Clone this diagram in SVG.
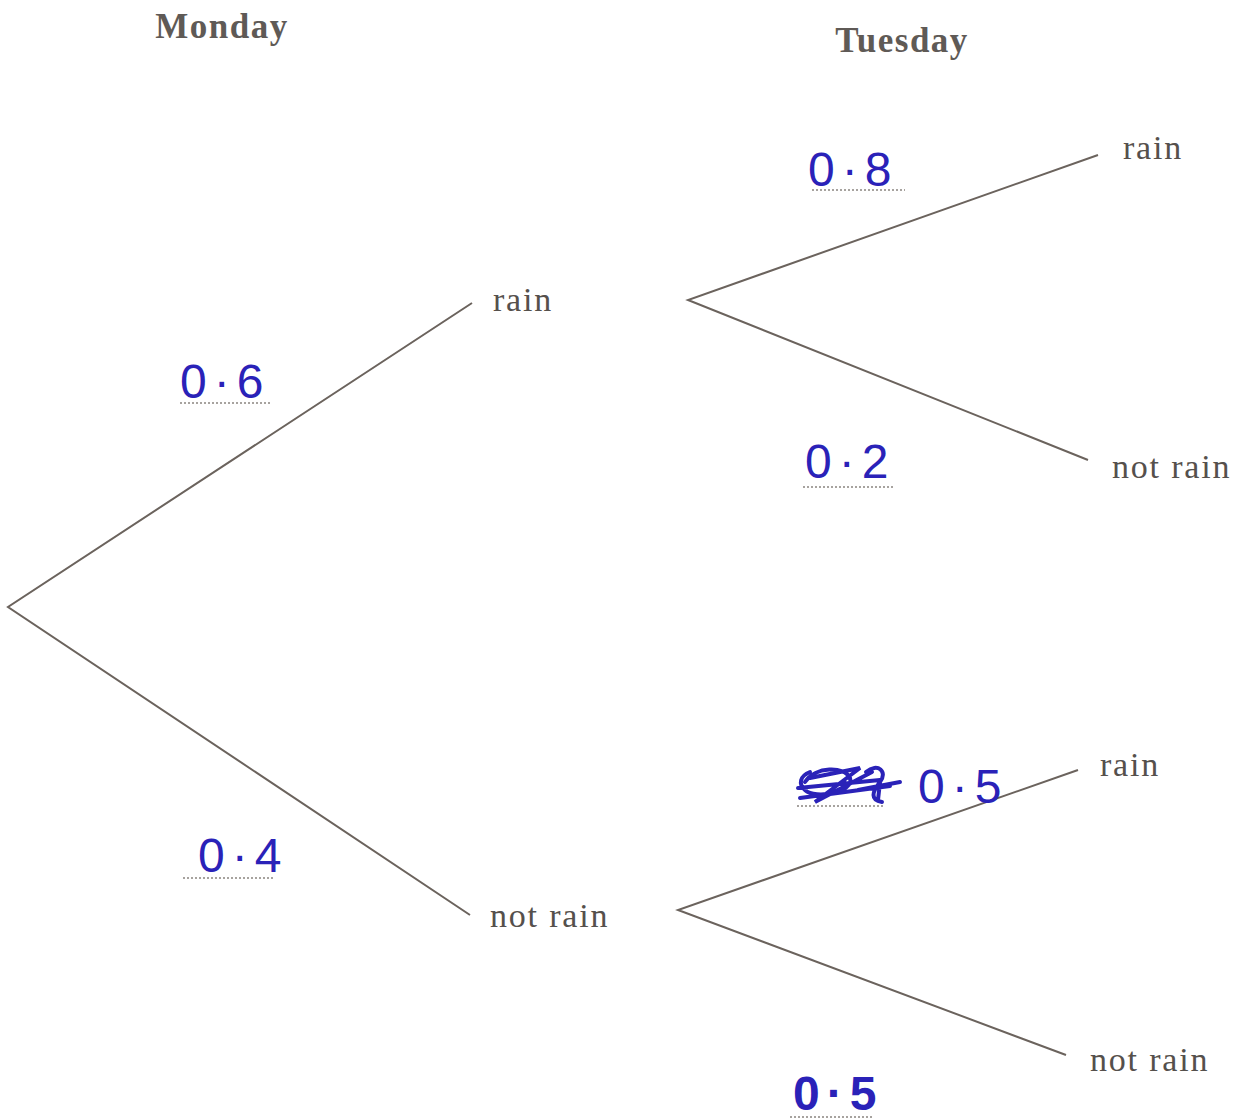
<svg xmlns="http://www.w3.org/2000/svg" width="1240" height="1120" viewBox="0 0 1240 1120">
<style>
.hd{font-family:"Liberation Serif","DejaVu Serif",serif;font-size:35px;font-weight:bold;fill:#5f5a56;letter-spacing:1.5px}
.lb{font-family:"Liberation Serif","DejaVu Serif",serif;font-size:34px;fill:#55504c;letter-spacing:1.8px}
.br{stroke:#6b635d;stroke-width:2;fill:none}
.hw{font-family:"Liberation Sans","DejaVu Sans",sans-serif;font-size:48px;fill:#2a22b8;letter-spacing:7px}
.dot{stroke:#8a8580;stroke-width:1.5;stroke-dasharray:2 2;fill:none}
</style>
<rect width="1240" height="1120" fill="#ffffff"/>
<g id="headers">
<text class="hd" x="222" y="38" text-anchor="middle">Monday</text>
<text class="hd" x="902" y="52" text-anchor="middle">Tuesday</text>
</g>
<g id="connectors">
<path class="br" d="M472 303 L8 607 L470 915"/>
<path class="br" d="M1098 155 L688 300 L1088 460"/>
<path class="br" d="M1078 770 L678 910 L1066 1055"/>
</g>
<g id="mon-rain"><text class="lb" x="493" y="311">rain</text></g>
<g id="mon-notrain"><text class="lb" x="490" y="927">not rain</text></g>
<g id="tue-rain-rain"><text class="lb" x="1123" y="159">rain</text></g>
<g id="tue-rain-notrain"><text class="lb" x="1112" y="478">not rain</text></g>
<g id="tue-notrain-rain"><text class="lb" x="1100" y="776">rain</text></g>
<g id="tue-notrain-notrain"><text class="lb" x="1090" y="1071">not rain</text></g>
<g id="prob-labels">
<line class="dot" x1="180" y1="403" x2="270" y2="403"/>
<text class="hw" x="180" y="398">0·6</text>
<line class="dot" x1="183" y1="878" x2="275" y2="878"/>
<text class="hw" x="198" y="872">0·4</text>
<line class="dot" x1="812" y1="190" x2="905" y2="190"/>
<text class="hw" x="808" y="186">0·8</text>
<line class="dot" x1="803" y1="487" x2="895" y2="487"/>
<text class="hw" x="805" y="478">0·2</text>
<line class="dot" x1="797" y1="806" x2="885" y2="806"/>
<path d="M805 782 C815 766 845 766 850 778 C855 792 815 800 805 790 C798 784 800 776 810 772 M798 788 L880 780 M800 798 L890 786 M810 778 L860 768 L815 802 L872 772 M866 772 C878 762 888 772 880 782 C872 792 870 800 882 802 M880 782 L878 800 M858 790 L900 782" stroke="#2a22b8" stroke-width="4" fill="none" stroke-linecap="round"/>
<text class="hw" x="918" y="803">0·5</text>
<line class="dot" x1="790" y1="1117" x2="872" y2="1117"/>
<text class="hw" x="793" y="1110" font-weight="bold" font-size="46">0·5</text>
</g>
</svg>
